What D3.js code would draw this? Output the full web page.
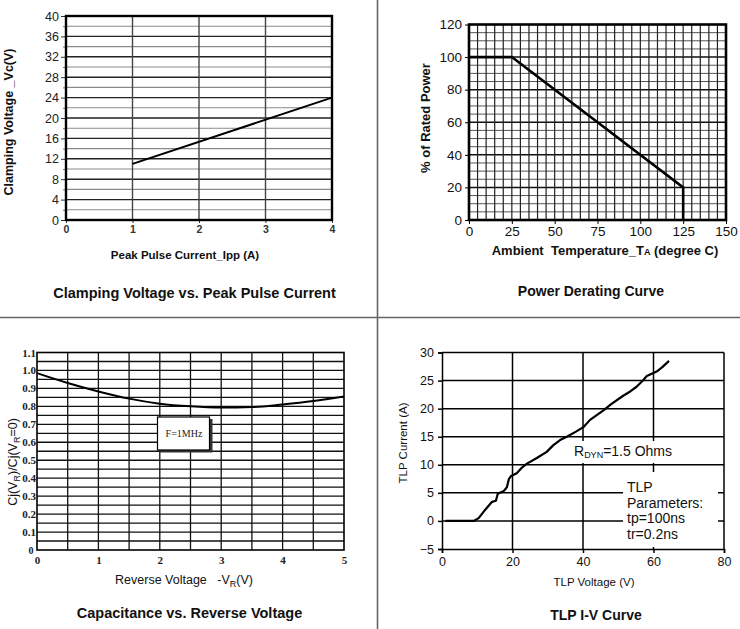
<!DOCTYPE html>
<html><head><meta charset="utf-8">
<script src="https://cdn.jsdelivr.net/npm/d3@7"></script>
<style>
html,body{margin:0;padding:0;background:#fff;}
svg{display:block;}
</style></head>
<body>
<svg id="c" width="740" height="629" font-family="Arial, 'Liberation Sans', sans-serif"></svg>
<script>
// ---------- DATA ----------
// Panel 1: Clamping Voltage vs Peak Pulse Current
const clampCurrent = [1, 4];
const clampVoltage = [11, 24];
const clampXTicks = [0, 1, 2, 3, 4];
const clampYTicks = [0, 4, 8, 12, 16, 20, 24, 28, 32, 36, 40];

// Panel 2: Power derating
const deratingTemp = [0, 25, 125, 125];
const deratingPower = [100, 100, 20, 0];
const deratingXTicks = [0, 25, 50, 75, 100, 125, 150];
const deratingYTicks = [0, 20, 40, 60, 80, 100, 120];

// Panel 3: Capacitance vs Reverse Voltage
const capVoltage = [0, 0.5, 1, 1.5, 2, 2.5, 3, 3.5, 4, 4.5, 5];
const capRatio = [0.985, 0.93, 0.883, 0.843, 0.815, 0.8, 0.793, 0.796, 0.811, 0.83, 0.855];
const capXTicks = [0, 1, 2, 3, 4, 5];
const capYTicks = [0.1, 0.2, 0.3, 0.4, 0.5, 0.6, 0.7, 0.8, 0.9, 1.0, 1.1];

// Panel 4: TLP I-V curve
const tlpVoltage = [1, 9, 10.4, 12, 14.2, 15.3, 15.8, 16.3, 17.5, 18.4, 19.0, 19.6, 21.2, 22.5, 24.1, 26.9, 29.7, 31.6, 33.5, 35.4, 38, 40.1, 42, 45.8, 48, 51.4, 53.5, 55.2, 57, 58.1, 60.9, 62.5, 64.4];
const tlpCurrent = [0, 0, 0.5, 1.8, 3.4, 3.6, 4.8, 5.0, 5.3, 6.0, 7.5, 8.0, 8.5, 9.4, 10.2, 11.2, 12.3, 13.5, 14.4, 15.0, 15.9, 16.7, 18.0, 19.7, 20.8, 22.3, 23.1, 23.9, 25.0, 25.8, 26.6, 27.4, 28.5];
const tlpXTicks = [0, 20, 40, 60, 80];
const tlpYTicks = [-5, 0, 5, 10, 15, 20, 25, 30];

// ---------- DRAW ----------
const svg = d3.select("#c");
const sans = "Arial, 'Liberation Sans', sans-serif";
const serif = "'Liberation Serif', 'DejaVu Serif', serif";
svg.append("rect").attr("width", 740).attr("height", 629).attr("fill", "#fff");

function range(a, b, s) { const r = []; for (let v = a; v <= b + 1e-9; v += s) r.push(+v.toFixed(4)); return r; }
function zip(a, b) { return a.map((v, i) => [v, b[i]]); }

// dividers
svg.append("line").attr("x1", 377.5).attr("x2", 377.5).attr("y1", 0).attr("y2", 629).attr("stroke", "#666").attr("stroke-width", 1.6);
svg.append("line").attr("x1", 0).attr("x2", 740).attr("y1", 317.5).attr("y2", 317.5).attr("stroke", "#666").attr("stroke-width", 1.6);

// ===== Panel 1 =====
(function () {
  const g = svg.append("g");
  const x = d3.scaleLinear().domain([0, 4]).range([66, 332]);
  const y = d3.scaleLinear().domain([0, 40]).range([220, 16]);
  g.selectAll(".hg").data(range(2, 38, 2)).join("line")
    .attr("x1", x(0)).attr("x2", x(4)).attr("y1", d => y(d)).attr("y2", d => y(d))
    .attr("stroke", d => d % 4 === 0 ? "#222" : "#8a8a8a").attr("stroke-width", d => d % 4 === 0 ? 1.4 : 1.1);
  g.selectAll(".vg").data([1, 2, 3]).join("line")
    .attr("x1", d => x(d)).attr("x2", d => x(d)).attr("y1", y(0)).attr("y2", y(40))
    .attr("stroke", "#444").attr("stroke-width", 1.4);
  const ya = g.append("g").attr("transform", `translate(${x(0)},0)`)
    .call(d3.axisLeft(y).tickValues(clampYTicks).tickSize(5).tickPadding(2).tickFormat(d3.format("d")));
  ya.select(".domain").remove();
  ya.selectAll("text").attr("font-size", 12.5).attr("fill", "#222").attr("font-family", sans);
  ya.selectAll("line").attr("stroke", "#333");
  const ym = g.append("g").attr("transform", `translate(${x(0)},0)`)
    .call(d3.axisLeft(y).tickValues(range(2, 38, 4)).tickSize(3).tickFormat(""));
  ym.select(".domain").remove(); ym.selectAll("line").attr("stroke", "#777");
  const xa = g.append("g").attr("transform", `translate(0,${y(0)})`)
    .call(d3.axisBottom(x).tickValues(clampXTicks).tickSize(3).tickPadding(3).tickFormat(d3.format("d")));
  xa.select(".domain").remove();
  xa.selectAll("text").attr("font-size", 10.5).attr("font-weight", "bold").attr("fill", "#333").attr("font-family", sans);
  xa.selectAll("line").attr("stroke", "#333");
  g.append("rect").attr("x", x(0)).attr("y", y(40)).attr("width", x(4) - x(0)).attr("height", y(0) - y(40))
    .attr("fill", "none").attr("stroke", "#000").attr("stroke-width", 2.4);
  g.append("path").datum(zip(clampCurrent, clampVoltage))
    .attr("d", d3.line().x(d => x(d[0])).y(d => y(d[1])))
    .attr("fill", "none").attr("stroke", "#000").attr("stroke-width", 2);
  g.append("text").attr("x", 185).attr("y", 259).attr("text-anchor", "middle").attr("font-family", sans)
    .attr("font-size", 11.5).attr("font-weight", "bold").attr("fill", "#111").text("Peak Pulse Current_Ipp (A)");
  g.append("text").attr("transform", "translate(12.5,122) rotate(-90)").attr("text-anchor", "middle").attr("font-family", sans)
    .attr("font-size", 12.5).attr("font-weight", "bold").attr("fill", "#111").text("Clamping Voltage _Vc(V)");
  g.append("text").attr("x", 194.5).attr("y", 298).attr("text-anchor", "middle").attr("font-family", sans)
    .attr("font-size", 14.5).attr("font-weight", "bold").attr("fill", "#111").text("Clamping Voltage vs. Peak Pulse Current");
})();

// ===== Panel 2 =====
(function () {
  const g = svg.append("g");
  const x = d3.scaleLinear().domain([0, 150]).range([469, 726]);
  const y = d3.scaleLinear().domain([0, 120]).range([220, 24.5]);
  g.selectAll(".hg").data(range(5, 115, 5)).join("line")
    .attr("x1", x(0)).attr("x2", x(150)).attr("y1", d => y(d)).attr("y2", d => y(d))
    .attr("stroke", d => d % 20 === 0 ? "#111" : "#555").attr("stroke-width", d => d % 20 === 0 ? 1.5 : 1);
  g.selectAll(".vg").data(range(5, 145, 5)).join("line")
    .attr("x1", d => x(d)).attr("x2", d => x(d)).attr("y1", y(0)).attr("y2", y(120))
    .attr("stroke", "#222").attr("stroke-width", 1.2);
  const ya = g.append("g").attr("transform", `translate(${x(0)},0)`)
    .call(d3.axisLeft(y).tickValues(deratingYTicks).tickSize(4).tickPadding(3).tickFormat(d3.format("d")));
  ya.select(".domain").remove();
  ya.selectAll("text").attr("font-size", 13.5).attr("fill", "#111").attr("font-family", sans);
  const xa = g.append("g").attr("transform", `translate(0,${y(0)})`)
    .call(d3.axisBottom(x).tickValues(deratingXTicks).tickSize(4).tickPadding(2).tickFormat(d3.format("d")));
  xa.select(".domain").remove();
  xa.selectAll("text").attr("font-size", 13.5).attr("fill", "#111").attr("font-family", sans);
  g.append("rect").attr("x", x(0)).attr("y", y(120)).attr("width", x(150) - x(0)).attr("height", y(0) - y(120))
    .attr("fill", "none").attr("stroke", "#000").attr("stroke-width", 2.6);
  g.append("path").datum(zip(deratingTemp, deratingPower))
    .attr("d", d3.line().x(d => x(d[0])).y(d => y(d[1])))
    .attr("fill", "none").attr("stroke", "#000").attr("stroke-width", 2.6);
  const xl = g.append("text").attr("x", 605).attr("y", 255).attr("text-anchor", "middle").attr("font-family", sans)
    .attr("font-size", 13).attr("font-weight", "bold").attr("fill", "#111").attr("xml:space", "preserve");
  xl.append("tspan").text("Ambient  Temperature_T");
  xl.append("tspan").attr("font-size", 9).text("A");
  xl.append("tspan").text(" (degree C)");
  g.append("text").attr("transform", "translate(430,118) rotate(-90)").attr("text-anchor", "middle").attr("font-family", sans)
    .attr("font-size", 13).attr("font-weight", "bold").attr("fill", "#111").text("% of Rated Power");
  g.append("text").attr("x", 591).attr("y", 296).attr("text-anchor", "middle").attr("font-family", sans)
    .attr("font-size", 14).attr("font-weight", "bold").attr("fill", "#111").text("Power Derating Curve");
})();

// ===== Panel 3 =====
(function () {
  const g = svg.append("g");
  const x = d3.scaleLinear().domain([0, 5]).range([37, 344]);
  const y = d3.scaleLinear().domain([0, 1.1]).range([550, 352.5]);
  g.selectAll(".hg").data(range(0.05, 1.05, 0.05)).join("line")
    .attr("x1", x(0)).attr("x2", x(5)).attr("y1", d => y(d)).attr("y2", d => y(d))
    .attr("stroke", "#111").attr("stroke-width", 1.3);
  g.selectAll(".vg").data(range(0.5, 4.5, 0.5)).join("line")
    .attr("x1", d => x(d)).attr("x2", d => x(d)).attr("y1", y(0)).attr("y2", y(1.1))
    .attr("stroke", "#111").attr("stroke-width", 1.3);
  g.append("rect").attr("x", x(0)).attr("y", y(1.1)).attr("width", x(5) - x(0)).attr("height", y(0) - y(1.1))
    .attr("fill", "none").attr("stroke", "#000").attr("stroke-width", 1.6);
  const ya = g.append("g").attr("transform", `translate(${x(0)},0)`)
    .call(d3.axisLeft(y).tickValues(capYTicks).tickSize(0).tickPadding(1).tickFormat(d3.format(".1f")));
  ya.select(".domain").remove();
  ya.selectAll("text").attr("font-size", 11).attr("font-weight", "bold").attr("fill", "#222").attr("font-family", serif);
  const xa = g.append("g").attr("transform", `translate(0,${y(0)})`)
    .call(d3.axisBottom(x).tickValues(capXTicks).tickSize(0).tickPadding(6).tickFormat(d3.format("d")));
  xa.select(".domain").remove();
  xa.selectAll("text").attr("font-size", 11).attr("font-weight", "bold").attr("fill", "#222").attr("font-family", serif);
  g.append("text").attr("x", x(0) - 6).attr("y", y(0) + 4).attr("text-anchor", "middle")
    .attr("font-size", 10).attr("font-weight", "bold").attr("fill", "#222").attr("font-family", serif).text("0");
  g.append("path").datum(zip(capVoltage, capRatio))
    .attr("d", d3.line().curve(d3.curveMonotoneX).x(d => x(d[0])).y(d => y(d[1])))
    .attr("fill", "none").attr("stroke", "#000").attr("stroke-width", 2);
  g.append("rect").attr("x", 159.5).attr("y", 419).attr("width", 53).attr("height", 33.5).attr("fill", "#333");
  g.append("rect").attr("x", 157.5).attr("y", 417).attr("width", 52).attr("height", 33).attr("fill", "#fff")
    .attr("stroke", "#000").attr("stroke-width", 1.2);
  g.append("text").attr("x", 184).attr("y", 437).attr("text-anchor", "middle").attr("font-size", 10)
    .attr("font-family", serif).attr("fill", "#222").text("F=1MHz");
  const yl = g.append("text").attr("transform", "translate(16.5,462) rotate(-90)").attr("text-anchor", "middle")
    .attr("font-size", 12.5).attr("fill", "#111").attr("font-family", sans);
  yl.append("tspan").text("Cj(V");
  yl.append("tspan").attr("font-size", 9).attr("dy", 3).text("R");
  yl.append("tspan").attr("dy", -3).text(")/Cj(V");
  yl.append("tspan").attr("font-size", 9).attr("dy", 3).text("R");
  yl.append("tspan").attr("dy", -3).text("=0)");
  const xl = g.append("text").attr("x", 184).attr("y", 584).attr("text-anchor", "middle").attr("font-family", sans)
    .attr("font-size", 12.5).attr("fill", "#111").attr("xml:space", "preserve");
  xl.append("tspan").text("Reverse Voltage   -V");
  xl.append("tspan").attr("font-size", 9).attr("dy", 3).text("R");
  xl.append("tspan").attr("dy", -3).text("(V)");
  g.append("text").attr("x", 189.5).attr("y", 618).attr("text-anchor", "middle").attr("font-family", sans)
    .attr("font-size", 14.5).attr("font-weight", "bold").attr("fill", "#111").text("Capacitance vs. Reverse Voltage");
})();

// ===== Panel 4 =====
(function () {
  const g = svg.append("g");
  const x = d3.scaleLinear().domain([0, 80]).range([442, 724]);
  const y = d3.scaleLinear().domain([-5, 30]).range([549, 352.5]);
  g.selectAll(".hg").data(range(0, 30, 5)).join("line")
    .attr("x1", x(0)).attr("x2", x(80)).attr("y1", d => y(d)).attr("y2", d => y(d))
    .attr("stroke", "#000").attr("stroke-width", 1.5);
  g.selectAll(".vg").data([20, 40, 60, 80]).join("line")
    .attr("x1", d => x(d)).attr("x2", d => x(d)).attr("y1", y(-5)).attr("y2", y(30))
    .attr("stroke", "#000").attr("stroke-width", 1.5);
  const ya = g.append("g").attr("transform", `translate(${x(0)},0)`)
    .call(d3.axisLeft(y).tickValues(tlpYTicks).tickSize(4).tickPadding(4).tickFormat(d => d < 0 ? "\u2212" + Math.abs(d) : d));
  ya.select(".domain").attr("stroke-width", 1.5);
  ya.selectAll("line").attr("stroke-width", 1.5);
  ya.selectAll("text").attr("font-size", 12.5).attr("fill", "#111").attr("font-family", sans);
  const xa = g.append("g").attr("transform", `translate(0,${y(-5)})`)
    .call(d3.axisBottom(x).tickValues(tlpXTicks).tickSize(4).tickPadding(4).tickFormat(d3.format("d")));
  xa.select(".domain").attr("stroke-width", 1.5);
  xa.selectAll("line").attr("stroke-width", 1.5);
  xa.selectAll("text").attr("font-size", 12.5).attr("fill", "#111").attr("font-family", sans);
  g.append("rect").attr("x", 573).attr("y", 441).attr("width", 103).attr("height", 22).attr("fill", "#fff");
  g.append("rect").attr("x", 623).attr("y", 472).attr("width", 95).attr("height", 75).attr("fill", "#fff");
  const r = g.append("text").attr("x", 574).attr("y", 456).attr("font-size", 14).attr("fill", "#111").attr("font-family", sans);
  r.append("tspan").text("R");
  r.append("tspan").attr("font-size", 9).attr("dy", 2).text("DYN");
  r.append("tspan").attr("dy", -2).text("=1.5 Ohms");
  const tp = ["TLP", "Parameters:", "tp=100ns", "tr=0.2ns"];
  g.selectAll(".tp").data(tp).join("text").attr("x", 627).attr("y", (d, i) => 492 + i * 15.5)
    .attr("font-size", 14).attr("fill", "#111").attr("font-family", sans).text(d => d);
  g.append("path").datum(zip(tlpVoltage, tlpCurrent))
    .attr("d", d3.line().x(d => x(d[0])).y(d => y(d[1])))
    .attr("fill", "none").attr("stroke", "#000").attr("stroke-width", 2.2).attr("stroke-linejoin", "round");
  g.append("text").attr("transform", "translate(407,443) rotate(-90)").attr("text-anchor", "middle").attr("font-family", sans)
    .attr("font-size", 11.5).attr("fill", "#111").text("TLP Current (A)");
  g.append("text").attr("x", 594).attr("y", 586).attr("text-anchor", "middle").attr("font-family", sans)
    .attr("font-size", 11.5).attr("fill", "#111").text("TLP Voltage (V)");
  g.append("text").attr("x", 596).attr("y", 620).attr("text-anchor", "middle").attr("font-family", sans)
    .attr("font-size", 14).attr("font-weight", "bold").attr("fill", "#111").text("TLP I-V Curve");
})();
</script>
</body></html>
